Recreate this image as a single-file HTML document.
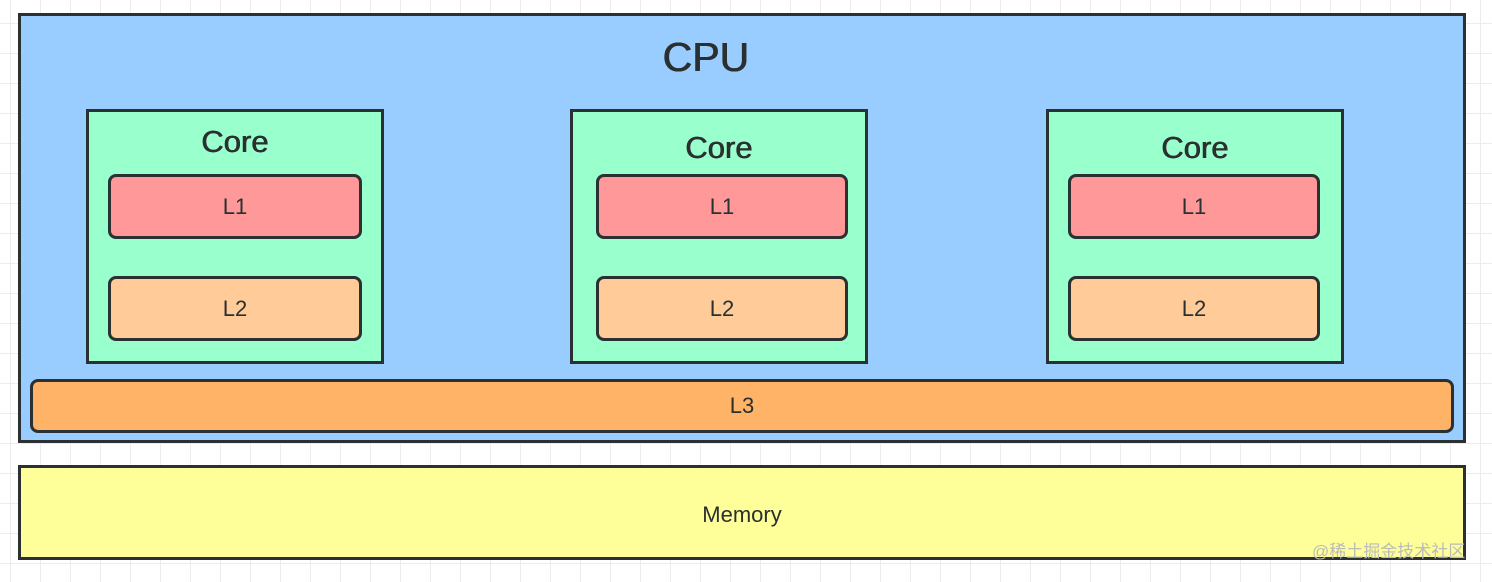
<!DOCTYPE html>
<html><head><meta charset="utf-8"><style>
body{margin:0;width:1492px;height:582px;overflow:hidden;position:relative;font-family:"Liberation Sans","Noto Sans CJK SC",sans-serif;color:#2a2f2f;
background-color:#fff;background-image:linear-gradient(to right,#ececec 1px,transparent 1px),linear-gradient(to bottom,#ececec 1px,transparent 1px);background-size:30px 30px;background-position:10px 23px}
.b{position:absolute;box-sizing:border-box;border:3px solid #2b3033;display:flex;align-items:center;justify-content:center}
.t{position:absolute;text-align:center;line-height:1}
.h{text-shadow:0.4px 0 0 #2a2f2f,-0.4px 0 0 #2a2f2f}
</style></head><body>
<div class="b" style="left:18px;top:13px;width:1448px;height:430px;background:#99ccff"></div>
<div class="t h" style="left:18px;width:1376px;top:37px;font-size:41px">CPU</div>

<div class="b" style="left:86px;top:109px;width:298px;height:255px;background:#99ffcc"></div>
<div class="t h" style="left:86px;width:298px;top:126px;font-size:31px">Core</div>
<div class="b" style="left:108px;top:174px;width:254px;height:65px;background:#ff9999;border-radius:8px;font-size:22px">L1</div>
<div class="b" style="left:108px;top:276px;width:254px;height:65px;background:#ffcc99;border-radius:8px;font-size:22px">L2</div>

<div class="b" style="left:570px;top:109px;width:298px;height:255px;background:#99ffcc"></div>
<div class="t h" style="left:570px;width:298px;top:132px;font-size:31px">Core</div>
<div class="b" style="left:596px;top:174px;width:252px;height:65px;background:#ff9999;border-radius:8px;font-size:22px">L1</div>
<div class="b" style="left:596px;top:276px;width:252px;height:65px;background:#ffcc99;border-radius:8px;font-size:22px">L2</div>

<div class="b" style="left:1046px;top:109px;width:298px;height:255px;background:#99ffcc"></div>
<div class="t h" style="left:1046px;width:298px;top:132px;font-size:31px">Core</div>
<div class="b" style="left:1068px;top:174px;width:252px;height:65px;background:#ff9999;border-radius:8px;font-size:22px">L1</div>
<div class="b" style="left:1068px;top:276px;width:252px;height:65px;background:#ffcc99;border-radius:8px;font-size:22px">L2</div>

<div class="b" style="left:30px;top:379px;width:1424px;height:54px;background:#ffb366;border-radius:8px;font-size:22px">L3</div>
<div class="b" style="left:18px;top:465px;width:1448px;height:95px;background:#ffff99;font-size:22px;padding-top:4px">Memory</div>
<div class="t" style="left:1312px;top:543px;font-size:17px;color:#bbb">@稀土掘金技术社区</div>
</body></html>
